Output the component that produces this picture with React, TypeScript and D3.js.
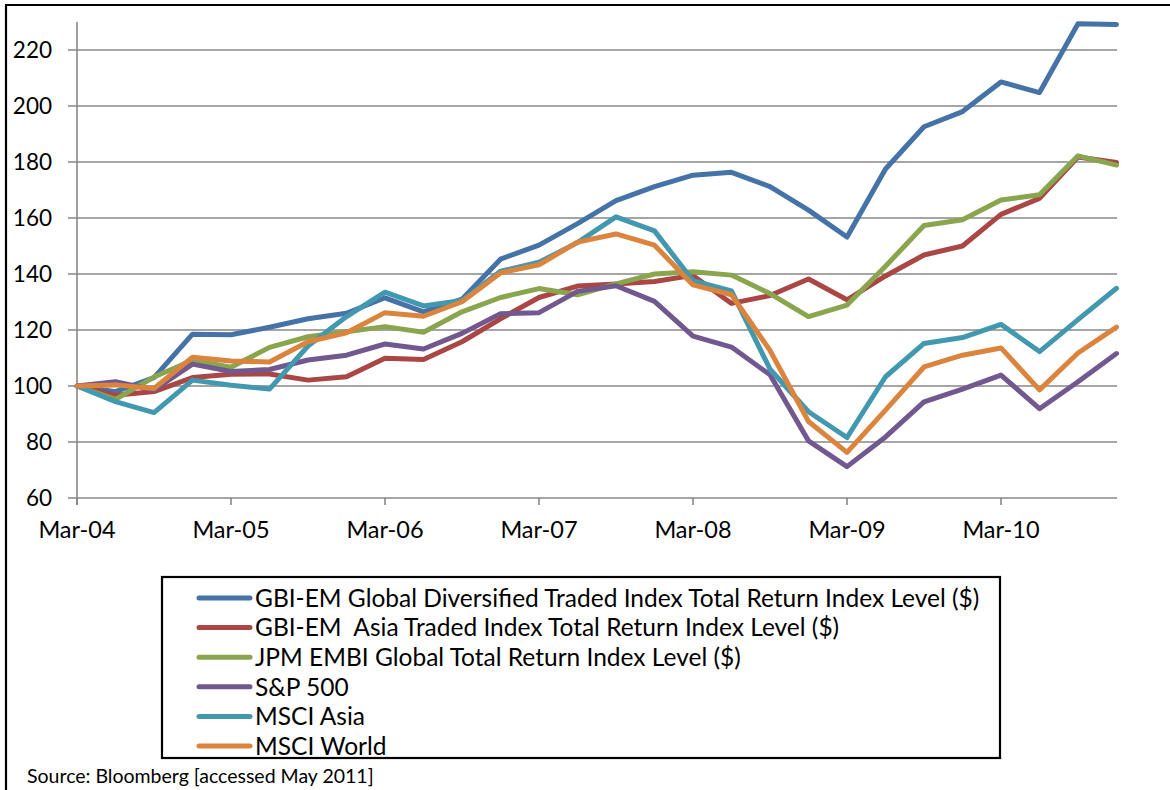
import React from "react";
import * as d3 from "d3";

const quarters: string[] = [
  "Mar-04","Jun-04","Sep-04","Dec-04","Mar-05","Jun-05","Sep-05","Dec-05",
  "Mar-06","Jun-06","Sep-06","Dec-06","Mar-07","Jun-07","Sep-07","Dec-07",
  "Mar-08","Jun-08","Sep-08","Dec-08","Mar-09","Jun-09","Sep-09","Dec-09",
  "Mar-10","Jun-10","Sep-10","Dec-10",
];

const xTickLabels: string[] = ["Mar-04","Mar-05","Mar-06","Mar-07","Mar-08","Mar-09","Mar-10"];
const yTicks: number[] = [60, 80, 100, 120, 140, 160, 180, 200, 220];

const seriesNames: string[] = [
  "GBI-EM Global Diversified Traded Index Total Return Index Level ($)",
  "GBI-EM  Asia Traded Index Total Return Index Level ($)",
  "JPM EMBI Global Total Return Index Level ($)",
  "S&P 500",
  "MSCI Asia",
  "MSCI World",
];

const seriesColors: string[] = ["#4572A7", "#AA4643", "#89A54E", "#71588F", "#4198AF", "#DB843D"];

const gbiGlobal: number[] = [100, 98, 103, 118.5, 118.3, 121, 124, 126, 131.5, 126.5, 131, 145.3, 150.3, 158, 166.2, 171.2, 175.3, 176.3, 171.2, 162.8, 153.2, 177.5, 192.6, 198, 208.6, 204.8, 229.4, 229.1];
const gbiAsia: number[] = [100, 96.7, 98, 103, 104.2, 104.3, 102.1, 103.3, 109.9, 109.5, 115.8, 124, 131.6, 135.7, 136.4, 137.3, 139.5, 129.5, 132.3, 138.2, 130.8, 139.3, 146.8, 150, 161.3, 167, 181.8, 179.8];
const jpmEmbi: number[] = [100, 95.2, 103.2, 109.2, 106.7, 113.8, 117.6, 119.4, 121.2, 119.2, 126.5, 131.6, 134.8, 132.6, 136.5, 140, 140.8, 139.6, 133, 124.8, 128.9, 142.8, 157.3, 159.4, 166.4, 168.3, 182.2, 178.9];
const sp500: number[] = [100, 101.5, 98.6, 107.8, 105.2, 105.9, 109.3, 111, 115, 113.2, 118.8, 125.8, 126.2, 133.8, 135.8, 130.2, 117.8, 113.9, 104, 80.4, 71.2, 81.8, 94.3, 98.9, 103.9, 91.9, 101.5, 111.6];
const msciAsia: number[] = [100, 94.4, 90.5, 102.1, 100.3, 98.9, 114.3, 124.8, 133.5, 128.6, 130.5, 141, 144.2, 151.2, 160.4, 155.4, 137.6, 134, 106, 90.8, 81.6, 103.3, 115.2, 117.3, 122, 112.3, 123.7, 134.9];
const msciWorld: number[] = [100, 100.4, 99.1, 110.3, 108.9, 108.6, 115.8, 119, 126.2, 124.9, 130.1, 140.4, 143.3, 151.4, 154.3, 150.3, 136.1, 132.6, 112.7, 87.3, 76.3, 91.4, 106.8, 111, 113.6, 98.6, 111.8, 121];

const seriesValues: number[][] = [gbiGlobal, gbiAsia, jpmEmbi, sp500, msciAsia, msciWorld];

const FONT = "Lato, 'Open Sans', sans-serif";

export default function App() {
  const W = 1170;
  const H = 790;
  const x = d3.scaleLinear().domain([0, quarters.length - 1]).range([77, 1116.5]);
  const y = d3.scaleLinear().domain([60, 230]).range([498, 22]);
  const line = d3
    .line<number>()
    .x((_, i) => x(i))
    .y((d) => y(d));

  const legendX = 162;
  const legendY = 577;
  const legendW = 838;
  const legendH = 181;
  const rowY = d3.scaleLinear().domain([0, seriesNames.length - 1]).range([598, 746]);

  return (
    <div style={{ position: "absolute", left: 0, top: 0, width: W, height: H, background: "#fff" }}>
      <svg width={W} height={H} style={{ display: "block" }} fontFamily={FONT}>
        <rect x={0} y={0} width={W} height={H} fill="#fff" />
        {/* outer frame */}
        <line x1={6} y1={5} x2={6} y2={H} stroke="#000" strokeWidth={2.2} />
        <line x1={5} y1={5} x2={W} y2={5} stroke="#000" strokeWidth={2.2} />

        {/* gridlines and y ticks */}
        {yTicks.map((t) => (
          <g key={t}>
            <line x1={68} x2={1117} y1={y(t)} y2={y(t)} stroke="#878787" strokeWidth={1.6} />
            <text x={52} y={y(t)} dy="0.36em" textAnchor="end" fontSize={22.5} fill="#000">
              {t}
            </text>
          </g>
        ))}
        {/* y axis line */}
        <line x1={77} x2={77} y1={22} y2={505} stroke="#878787" strokeWidth={1.6} />

        {/* x ticks and labels */}
        {xTickLabels.map((lab) => {
          const i = quarters.indexOf(lab);
          const xx = x(i);
          return (
            <g key={lab}>
              <line x1={xx} x2={xx} y1={498} y2={505} stroke="#878787" strokeWidth={1.6} />
              <text x={xx} y={538} textAnchor="middle" fontSize={23.5} fill="#000">
                {lab}
              </text>
            </g>
          );
        })}

        {/* series lines */}
        {seriesValues.map((vals, si) => (
          <path
            key={si}
            d={line(vals) || ""}
            fill="none"
            stroke={seriesColors[si]}
            strokeWidth={5}
            strokeLinejoin="round"
            strokeLinecap="round"
          />
        ))}

        {/* legend */}
        <rect x={legendX} y={legendY} width={legendW} height={legendH} fill="#fff" stroke="#000" strokeWidth={2.2} />
        {seriesNames.map((name, i) => (
          <g key={name}>
            <line x1={199} x2={250} y1={rowY(i)} y2={rowY(i)} stroke={seriesColors[i]} strokeWidth={5} strokeLinecap="round" />
            <text x={255} y={rowY(i)} dy="0.36em" fontSize={24.5} fill="#000" style={{ whiteSpace: "pre" }}>
              {name}
            </text>
          </g>
        ))}

        {/* source */}
        <text x={27} y={783} fontSize={19.5} fill="#000">
          Source: Bloomberg [accessed May 2011]
        </text>
      </svg>
    </div>
  );
}
